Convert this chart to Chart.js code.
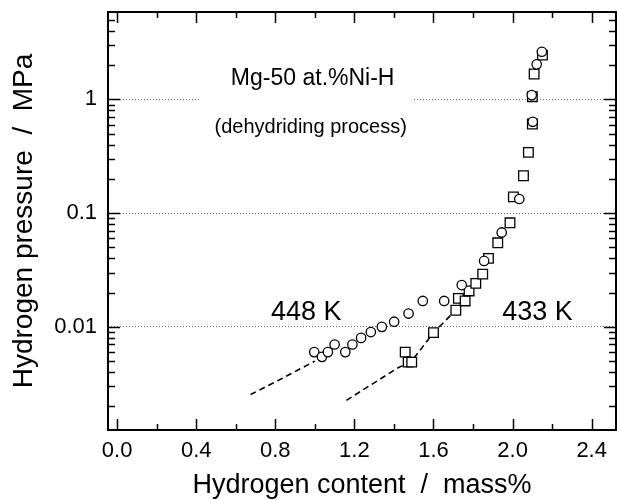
<!DOCTYPE html>
<html>
<head>
<meta charset="utf-8">
<script src="https://cdn.jsdelivr.net/npm/chart.js@4.4.1/dist/chart.umd.min.js"></script>
<style>
  html, body { margin: 0; padding: 0; background: #fff; }
</style>
</head>
<body>
<canvas id="pct" width="617" height="500"></canvas>
<script>
// 448 K (circles)
const circleX = [0.997, 1.036, 1.066, 1.100, 1.154, 1.190, 1.234, 1.283, 1.339, 1.401, 1.474,
  1.546, 1.654, 1.743, 1.856, 1.945, 2.034, 2.102, 2.097, 2.122, 2.148];
const circleY = [0.0060, 0.00545, 0.0060, 0.0070, 0.0060, 0.0070, 0.0080, 0.0090, 0.0100, 0.0111, 0.0131,
  0.0169, 0.0169, 0.0233, 0.0380, 0.0676, 0.133, 0.635, 1.09, 2.03, 2.62];

// 433 K (squares)
const squareX = [1.457, 1.472, 1.490, 1.600, 1.713, 1.726, 1.760, 1.780, 1.814, 1.849, 1.878,
  1.925, 1.987, 2.004, 2.055, 2.080, 2.100, 2.100, 2.109, 2.151];
const squareY = [0.0060, 0.0049, 0.0049, 0.0089, 0.0140, 0.0178, 0.0169, 0.0207, 0.0241, 0.0291, 0.040,
  0.0548, 0.0822, 0.139, 0.213, 0.342, 0.607, 1.055, 1.67, 2.45];

// dashed guide curves
const dash448X = [0.675, 0.834, 1.0];
const dash448Y = [0.00254, 0.00352, 0.0050];
const dash433X = [1.16, 1.415, 1.49, 1.60, 1.713];
const dash433Y = [0.00226, 0.00431, 0.0050, 0.0089, 0.0140];

// axis ticks
const xTicks = [0.0, 0.4, 0.8, 1.2, 1.6, 2.0, 2.4];
const xMinorTicks = [0.2, 0.6, 1.0, 1.4, 1.8, 2.2];
const yTicks = [0.01, 0.1, 1];

const font = '"Liberation Sans", Arial, Helvetica, sans-serif';
const pts = (xs, ys) => xs.map((x, i) => ({ x: x, y: ys[i] }));

// inward tick marks on all four sides + frame
const frameTicks = {
  id: 'frameTicks',
  afterDraw(chart) {
    const { ctx, chartArea: a, scales: { x, y } } = chart;
    ctx.save();
    ctx.strokeStyle = '#000';
    ctx.lineWidth = 1.5;
    ctx.beginPath();
    const xt = (v, len) => {
      const px = Math.round(x.getPixelForValue(v)) + 0.5;
      ctx.moveTo(px, a.bottom); ctx.lineTo(px, a.bottom - len);
      ctx.moveTo(px, a.top); ctx.lineTo(px, a.top + len);
    };
    xTicks.forEach(v => xt(v, 11));
    xMinorTicks.forEach(v => xt(v, 6));
    const yt = (v, len) => {
      const py = Math.round(y.getPixelForValue(v)) + 0.5;
      if (py < a.top + 2 || py > a.bottom - 2) return;
      ctx.moveTo(a.left, py); ctx.lineTo(a.left + len, py);
      ctx.moveTo(a.right, py); ctx.lineTo(a.right - len, py);
    };
    [0.001, 0.01, 0.1, 1].forEach(d => {
      for (let m = 1; m <= 9; m++) yt(m * d, m === 1 ? 12 : 7);
    });
    ctx.stroke();
    ctx.lineWidth = 2;
    ctx.strokeRect(a.left, a.top, a.right - a.left, a.bottom - a.top);
    ctx.restore();
  }
};

// text labels placed in data coordinates
const notes = {
  id: 'notes',
  beforeDatasetsDraw(chart) {
    const { ctx, scales: { x, y } } = chart;
    ctx.save();
    // white box behind the title text (breaks the dotted line at 1 MPa)
    const bx0 = x.getPixelForValue(0.42), bx1 = x.getPixelForValue(1.5);
    const by0 = y.getPixelForValue(2.4), by1 = y.getPixelForValue(0.4);
    ctx.fillStyle = '#fff';
    ctx.fillRect(bx0, by0, bx1 - bx0, by1 - by0);
    ctx.fillStyle = '#000';
    ctx.textAlign = 'center';
    ctx.textBaseline = 'alphabetic';
    ctx.font = '23px ' + font;
    ctx.fillText('Mg-50 at.%Ni-H', x.getPixelForValue(0.989), y.getPixelForValue(1.336));
    ctx.font = '20px ' + font;
    ctx.fillText('(dehydriding process)', x.getPixelForValue(0.979), y.getPixelForValue(0.506));
    ctx.font = '27px ' + font;
    ctx.fillText('448 K', x.getPixelForValue(0.957), y.getPixelForValue(0.01146));
    ctx.fillText('433 K', x.getPixelForValue(2.126), y.getPixelForValue(0.01146));
    ctx.restore();
  }
};

new Chart(document.getElementById('pct'), {
  type: 'scatter',
  data: {
    datasets: [
      {
        label: '448 K',
        data: pts(circleX, circleY),
        pointStyle: 'circle',
        pointRadius: 4.7,
        pointBorderWidth: 1.3,
        borderColor: '#000',
        backgroundColor: '#fff',
        showLine: false
      },
      {
        label: '433 K',
        data: pts(squareX, squareY),
        pointStyle: 'rect',
        pointRadius: 6.8,
        pointBorderWidth: 1.3,
        borderColor: '#000',
        backgroundColor: '#fff',
        showLine: false
      },
      {
        label: '448 K fit',
        data: pts(dash448X, dash448Y),
        showLine: true,
        pointRadius: 0,
        borderColor: '#000',
        borderWidth: 1.6,
        borderDash: [6, 4]
      },
      {
        label: '433 K fit',
        data: pts(dash433X, dash433Y),
        showLine: true,
        pointRadius: 0,
        borderColor: '#000',
        borderWidth: 1.6,
        borderDash: [6, 4]
      }
    ]
  },
  options: {
    responsive: false,
    animation: false,
    devicePixelRatio: 1,
    layout: { autoPadding: false, padding: { top: 12, right: 1, left: 0, bottom: 0 } },
    scales: {
      x: {
        type: 'linear',
        min: -0.046,
        max: 2.523,
        afterBuildTicks: (s) => { s.ticks = xTicks.map(v => ({ value: v })); },
        afterFit: (s) => { s.height = 70; s.paddingLeft = 0; s.paddingRight = 0; },
        grid: { display: false, drawTicks: false },
        border: { display: false },
        ticks: {
          padding: 8,
          color: '#000',
          font: { family: font, size: 22 },
          callback: (v) => Number(v).toFixed(1)
        },
        title: {
          display: true,
          text: 'Hydrogen content  /  mass%',
          color: '#000',
          font: { family: font, size: 27, lineHeight: 1.1 },
          padding: { top: 0, bottom: 0 }
        }
      },
      y: {
        type: 'logarithmic',
        min: 0.00124,
        max: 5.86,
        afterBuildTicks: (s) => { s.ticks = yTicks.map(v => ({ value: v })); },
        afterFit: (s) => { s.width = 108; s.paddingTop = 0; s.paddingBottom = 0; },
        grid: { color: '#666', lineWidth: 1, drawTicks: false },
        border: { display: false, dash: [1, 2] },
        ticks: {
          padding: 11,
          color: '#000',
          font: { family: font, size: 22 },
          callback: (v) => String(v)
        },
        title: {
          display: true,
          text: 'Hydrogen pressure  /  MPa',
          color: '#000',
          font: { family: font, size: 28, lineHeight: 1.1 },
          padding: { top: 9, bottom: 0 }
        }
      }
    },
    plugins: {
      legend: { display: false },
      tooltip: { enabled: false }
    }
  },
  plugins: [notes, frameTicks]
});
</script>
</body>
</html>
